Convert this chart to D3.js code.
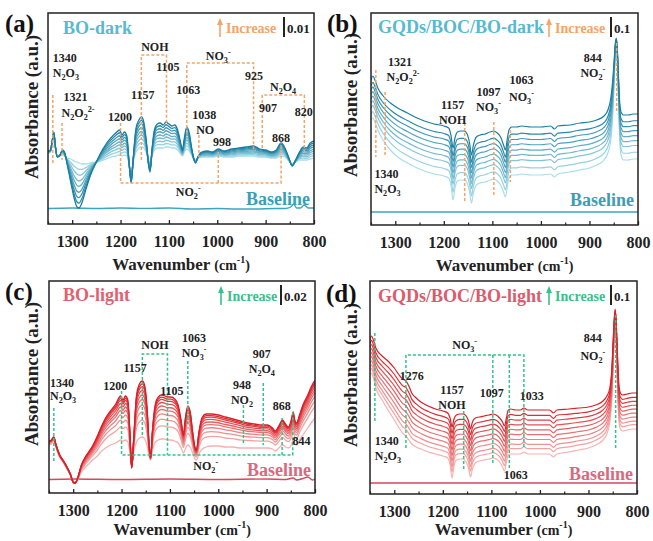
<!DOCTYPE html>
<html><head><meta charset="utf-8">
<script src="https://cdn.jsdelivr.net/npm/d3@7"></script>
<style>body{margin:0;background:#fff}svg{display:block}text{font-family:"Liberation Serif","Times New Roman",serif;font-weight:bold}</style>
</head><body><svg id="chart" width="653" height="541"></svg>
<script>
// ---------------- DATA (absorbance) ----------------
const xTicks = [1300,1200,1100,1000,900,800];
const xMinor = [1350,1250,1150,1050,950,850];

// Panel (a) BO-dark
const waveA = [1350,1345,1341,1338,1335,1331,1326,1320,1316,1310,1303,1296,1290,1286,1280,1272,1262,1250,1240,1230,1220,1210,1202,1197,1192,1187,1182,1178,1174,1168,1162,1157,1152,1147,1142,1139,1135,1130,1124,1118,1112,1106,1100,1094,1088,1082,1077,1072,1068,1063,1058,1053,1048,1045,1040,1032,1020,1010,998,985,970,955,940,925,912,900,888,878,868,860,852,845,838,830,822,815,808,800];
const darkA = [.0365,.037,.042,.046,.0395,.0335,.034,.037,.036,.0295,.021,.013,.0085,.008,.0105,.017,.0245,.031,.036,.040,.043,.0455,.047,.0445,.046,.044,.0295,.0205,.032,.048,.052,.0535,.051,.042,.0295,.026,.037,.047,.050,.0505,.0495,.051,.050,.049,.0495,.047,.042,.037,.043,.0485,.0455,.038,.032,.0305,.0335,.036,.0365,.036,.0375,.0365,.0375,.038,.0385,.039,.0375,.037,.036,.037,.0405,.038,.033,.029,.032,.036,.0385,.038,.0405,.0415];
const lightA = [.0355,.036,.041,.0445,.0385,.034,.0345,.0355,.034,.033,.0325,.0315,.031,.0305,.030,.030,.0305,.031,.0315,.0325,.0335,.034,.0345,.034,.0345,.034,.0295,.0245,.031,.036,.038,.0385,.038,.036,.032,.030,.034,.037,.038,.038,.038,.0385,.0385,.038,.038,.037,.0355,.034,.036,.0375,.0365,.0345,.0325,.032,.033,.0335,.0335,.0335,.034,.0335,.0335,.034,.034,.034,.0335,.0335,.033,.033,.034,.0335,.0315,.030,.031,.032,.032,.032,.0325,.033];
const weightsA = [0,0.14,0.27,0.4,0.52,0.65,0.77,0.89,1];
const baseWaveA = [1350,1300,1250,1200,1150,1100,1050,1000,960,920,880,860,848,842,836,828,820,812,800];
const baseA = [.00775,.008,.00775,.008,.0078,.008,.0075,.00775,.0075,.0075,.00775,.00775,.0085,.010,.008,.008,.0095,.008,.008];

// Panel (b) GQDs/BOC/BO-dark
const waveB = [1350,1346,1342,1336,1325,1310,1295,1275,1255,1240,1220,1200,1190,1185,1181,1177,1172,1165,1158,1152,1147,1143,1139,1133,1125,1115,1105,1097,1090,1083,1077,1073,1069,1065,1060,1050,1040,1020,1000,980,972,965,940,920,900,885,870,862,856,852,849,847,845,843,841,838,835,830,820,810,800];
const darkB = [0.725,0.745,0.725,0.685,0.645,0.61,0.585,0.56,0.535,0.52,0.505,0.495,0.485,0.445,0.385,0.435,0.465,0.47,0.47,0.455,0.41,0.35,0.40,0.44,0.45,0.455,0.465,0.47,0.46,0.44,0.40,0.375,0.435,0.48,0.49,0.49,0.495,0.49,0.49,0.495,0.48,0.495,0.50,0.51,0.515,0.525,0.545,0.575,0.635,0.725,0.825,0.90,0.935,0.90,0.79,0.625,0.565,0.55,0.55,0.555,0.555];
const lightB = [0.525,0.535,0.515,0.475,0.425,0.375,0.34,0.31,0.285,0.27,0.255,0.245,0.235,0.195,0.125,0.185,0.22,0.225,0.225,0.21,0.165,0.11,0.16,0.20,0.21,0.215,0.225,0.23,0.22,0.20,0.165,0.14,0.195,0.24,0.25,0.25,0.255,0.25,0.25,0.255,0.24,0.255,0.265,0.275,0.285,0.30,0.325,0.36,0.425,0.55,0.725,0.85,0.90,0.85,0.70,0.45,0.35,0.325,0.325,0.33,0.33];
const weightsB = [0,0.15,0.3,0.41,0.52,0.63,0.74,0.85,1];
const baseWaveB = [1350,1100,800];
const baseB = [0.065,0.065,0.065];

// Panel (c) BO-light
const waveC = [1350,1345,1340,1336,1328,1320,1314,1306,1300,1296,1290,1283,1276,1268,1260,1250,1243,1233,1223,1212,1202,1197,1192,1187,1183,1179,1175,1169,1163,1157,1152,1147,1143,1140,1136,1130,1124,1117,1110,1105,1098,1090,1083,1077,1072,1068,1063,1058,1053,1048,1045,1040,1033,1025,1015,1000,985,970,955,940,925,910,898,888,882,875,867,861,855,849,845,842,838,832,825,815,808,800];
const darkC = [0.052,0.053,0.056,0.049,0.038,0.032,0.027,0.019,0.011,0.010,0.016,0.028,0.035,0.041,0.047,0.057,0.065,0.075,0.082,0.089,0.097,0.093,0.097,0.093,0.063,0.025,0.053,0.098,0.109,0.112,0.107,0.083,0.048,0.035,0.063,0.089,0.096,0.098,0.097,0.096,0.096,0.094,0.088,0.073,0.058,0.075,0.087,0.081,0.061,0.045,0.043,0.061,0.076,0.079,0.079,0.078,0.076,0.074,0.072,0.070,0.069,0.068,0.068,0.065,0.062,0.067,0.073,0.069,0.066,0.073,0.081,0.073,0.070,0.078,0.088,0.098,0.106,0.113];
const lightC = [0.048,0.049,0.052,0.046,0.036,0.030,0.025,0.018,0.011,0.010,0.014,0.021,0.025,0.029,0.033,0.037,0.041,0.045,0.048,0.050,0.053,0.052,0.053,0.051,0.041,0.028,0.041,0.051,0.055,0.056,0.054,0.047,0.037,0.033,0.043,0.051,0.053,0.054,0.054,0.053,0.053,0.052,0.050,0.045,0.040,0.044,0.048,0.046,0.040,0.034,0.033,0.039,0.044,0.046,0.047,0.047,0.046,0.046,0.045,0.045,0.045,0.045,0.045,0.044,0.042,0.045,0.048,0.046,0.045,0.048,0.053,0.049,0.048,0.053,0.058,0.065,0.070,0.075];
const weightsC = [0,0.3,0.45,0.57,0.67,0.75,0.83,0.9,0.95,1];
const baseWaveC = [1350,1300,1200,1100,1000,900,860,845,838,825,815,805,800];
const baseC = [0.0135,0.014,0.0135,0.014,0.0135,0.014,0.0135,0.015,0.013,0.0145,0.016,0.013,0.014];

// Panel (d) GQDs/BOC/BO-light
const waveD = [1350,1347,1343,1338,1325,1313,1300,1290,1283,1276,1270,1264,1255,1245,1230,1215,1200,1190,1185,1181,1177,1172,1165,1158,1152,1147,1143,1139,1133,1125,1115,1105,1097,1090,1083,1077,1073,1069,1065,1060,1050,1040,1033,1025,1000,980,972,965,940,920,900,885,870,862,856,852,849,847,845,843,841,838,835,830,820,810,800];
const darkD = [0.77,0.79,0.77,0.73,0.69,0.665,0.63,0.595,0.575,0.565,0.54,0.505,0.48,0.46,0.44,0.425,0.415,0.405,0.38,0.335,0.375,0.395,0.40,0.40,0.39,0.365,0.325,0.36,0.38,0.385,0.39,0.395,0.40,0.395,0.38,0.36,0.34,0.38,0.42,0.425,0.42,0.42,0.43,0.42,0.42,0.42,0.405,0.42,0.425,0.43,0.435,0.445,0.465,0.49,0.53,0.62,0.77,0.87,0.925,0.87,0.745,0.57,0.51,0.495,0.50,0.505,0.505];
const lightD = [0.595,0.605,0.58,0.53,0.47,0.42,0.37,0.33,0.305,0.29,0.27,0.25,0.235,0.225,0.21,0.20,0.19,0.18,0.145,0.08,0.14,0.17,0.175,0.175,0.16,0.13,0.085,0.125,0.155,0.165,0.17,0.175,0.18,0.175,0.16,0.135,0.115,0.16,0.195,0.20,0.20,0.20,0.21,0.20,0.20,0.20,0.185,0.20,0.21,0.22,0.23,0.245,0.27,0.30,0.36,0.47,0.645,0.78,0.87,0.795,0.62,0.395,0.33,0.315,0.32,0.325,0.325];
const weightsD = [0,0.12,0.22,0.33,0.44,0.55,0.66,0.77,0.88,1];
const baseWaveD = [1350,1100,800];
const baseD = [0.055,0.055,0.055];

// Peak assignment guides [wavenumber, absorbance] and labels
const guidesA = [
  [[1340,0.0645],[1340,0.0305]],
  [[1321,0.0505],[1321,0.032]],
  [[1200,0.0505],[1200,0.0205],[868,0.0205],[868,0.0405]],
  [[998,0.0205],[998,0.036]],
  [[1157,0.032],[1157,0.0845],[1105,0.0845],[1105,0.0505]],
  [[1063,0.0455],[1063,0.0805],[925,0.0805],[925,0.037]],
  [[1038,0.0445],[1038,0.0335]],
  [[907,0.038],[907,0.0645],[820,0.0645],[820,0.0345]]
];
const notesA = [
  ['1340',1340,0.083,'start'],['N_2O_3',1340,0.0755,'start'],
  ['1321',1318,0.0635,'start'],['N_2O_2^{2-}',1322,0.0555,'start'],
  ['1200',1201,0.0535],['1157',1154,0.0645],['NOH',1129,0.0885],['1105',1102,0.0785],
  ['1063',1060,0.067],['NO_3^-',998,0.084],['925',924,0.074],['1038',1027,0.0545],['NO',1025,0.047],
  ['998',990,0.041],['N_2O_4',864,0.0685],['907',895,0.058],['820',821,0.056],['868',868,0.043],['NO_2^-',1060,0.016]
];
const guidesB = [
  [[1340,0.775],[1340,0.34]],
  [[1321,0.665],[1321,0.34]],
  [[1157,0.51],[1157,0.115]],
  [[1097,0.515],[1097,0.14]],
  [[1063,0.475],[1063,0.215]],
  [[844,0.91],[844,0.565]]
];
const notesB = [
  ['1340',1343,0.255,'start'],['N_2O_3',1343,0.18,'start'],
  ['1321',1315,0.815,'start'],['N_2O_2^{2-}',1318,0.74,'start'],
  ['1157',1182,0.60],['NOH',1182,0.525],
  ['1097',1108,0.665],['NO_3^-',1108,0.59],
  ['1063',1040,0.725],['NO_3^-',1040,0.64],
  ['844',893,0.835],['NO_2^-',893,0.76]
];
const guidesC = [
  [[1340,0.085],[1340,0.032]],
  [[1200,0.102],[1200,0.038],[846,0.038],[846,0.082]],
  [[1157,0.058],[1157,0.139],[1105,0.139],[1105,0.038]],
  [[868,0.038],[868,0.075]],
  [[1063,0.132],[1063,0.068]],
  [[948,0.088],[948,0.050]],
  [[907,0.110],[907,0.048]]
];
const notesC = [
  ['1340',1348,0.110,'start'],['N_2O_3',1348,0.097,'start'],
  ['1200',1213,0.107],['1157',1172,0.125],['NOH',1131,0.148],['1105',1096,0.102],
  ['1063',1050,0.155],['NO_3^-',1050,0.140],
  ['948',951,0.108],['NO_2',951,0.093],
  ['907',910,0.139],['N_2O_4',910,0.124],
  ['868',869,0.087],['844',828,0.052],['NO_2^-',1026,0.027]
];
const guidesD = [
  [[1340,0.805],[1340,0.355]],
  [[1276,0.23],[1276,0.695],[1033,0.695],[1033,0.23]],
  [[1097,0.695],[1097,0.155]],
  [[1063,0.695],[1063,0.13]],
  [[1157,0.415],[1157,0.115]],
  [[844,0.895],[844,0.23]]
];
const notesD = [
  ['1276',1264,0.59],['1157',1181,0.52],['NOH',1181,0.445],['1097',1099,0.505],
  ['1033',1017,0.49],['1063',1050,0.095],['NO_3^-',1155,0.745],
  ['1340',1340,0.265,'start'],['N_2O_3',1340,0.19,'start'],
  ['844',891,0.78],['NO_2^-',891,0.69]
];

// ---------------- LAYOUT ----------------
const blueLight = '#a8dde9', blueDark = '#1a7ea2';
const redLight = '#f7b2b0', redDark = '#d91f27';
const orange = '#f4a466', green = '#35c28c';

const panels = [
  {tag:'(a)', tagX:5, tagY:32, frame:[48,13,314,224], ymax:0.1055, wave:waveA, dark:darkA, light:lightA, weights:weightsA,
   baseWave:baseWaveA, base:baseA, c0:blueLight, c1:blueDark, baseCol:'#3aa6bf', baseTxt:'#3a9fb6', baseTxtY:205,
   title:'BO-dark', titleCol:'#58bacf', titleX:63, titleY:34, guideCol:orange, arrowX:220, incX:226, barX:284, scale:0.01, scaleTxt:'0.01',
   guides:guidesA, notes:notesA, ylabX:32, ylabY:107, lw:1.3, xlabDy:46},
  {tag:'(b)', tagX:327, tagY:32, frame:[371,13,638,225], ymax:1.06, wave:waveB, dark:darkB, light:lightB, weights:weightsB,
   baseWave:baseWaveB, base:baseB, c0:blueLight, c1:blueDark, baseCol:'#3aa6bf', baseTxt:'#3a9fb6', baseTxtY:206,
   title:'GQDs/BOC/BO-dark', titleCol:'#58bacf', titleX:378, titleY:33, guideCol:orange, arrowX:549, incX:555, barX:611, scale:0.1, scaleTxt:'0.1',
   guides:guidesB, notes:notesB, ylabX:351, ylabY:105, lw:1.2, xlabDy:46},
  {tag:'(c)', tagX:5, tagY:300, frame:[49,281,315,493], ymax:0.212, wave:waveC, dark:darkC, light:lightC, weights:weightsC,
   baseWave:baseWaveC, base:baseC, c0:redLight, c1:redDark, baseCol:'#d9475a', baseTxt:'#d86a80', baseTxtY:476,
   title:'BO-light', titleCol:'#e0616f', titleX:63, titleY:301, guideCol:green, arrowX:221, incX:227, barX:281, scale:0.02, scaleTxt:'0.02',
   guides:guidesC, notes:notesC, ylabX:32, ylabY:374, lw:1.3, xlabDy:42},
  {tag:'(d)', tagX:326, tagY:302, frame:[370,281,637,494], ymax:1.065, wave:waveD, dark:darkD, light:lightD, weights:weightsD,
   baseWave:baseWaveD, base:baseD, c0:redLight, c1:redDark, baseCol:'#d9475a', baseTxt:'#d86a80', baseTxtY:480,
   title:'GQDs/BOC/BO-light', titleCol:'#dc5a6c', titleX:378, titleY:302, guideCol:green, arrowX:549, incX:555, barX:611, scale:0.1, scaleTxt:'0.1',
   guides:guidesD, notes:notesD, ylabX:351, ylabY:375, lw:1.2, xlabDy:41}
];

const svg = d3.select('#chart');

function rich(el, s, fs) {
  const parts = s.match(/_\{[^}]*\}|_[^_^]|\^\{[^}]*\}|\^[^_^]|[^_^]+/g);
  let shift = 0;
  parts.forEach(t => {
    let target = 0, size = fs, txt = t;
    if (t[0] === '_' || t[0] === '^') {
      txt = t[1] === '{' ? t.slice(2, -1) : t.slice(1);
      size = fs * 0.68;
      target = t[0] === '_' ? fs * 0.28 : -fs * 0.4;
    }
    el.append('tspan').attr('dy', target - shift).attr('font-size', size).text(txt);
    shift = target;
  });
}

panels.forEach((p, idx) => {
  const [x0, y0, x1, y1] = p.frame;
  const x = d3.scaleLinear().domain([1350, 800]).range([x0, x1]);
  const y = d3.scaleLinear().domain([0, p.ymax]).range([y1, y0]);
  const g = svg.append('g');
  const clipId = 'clip' + idx;
  svg.append('clipPath').attr('id', clipId).append('rect')
    .attr('x', x0).attr('y', y0).attr('width', x1 - x0).attr('height', y1 - y0);
  const plot = g.append('g').attr('clip-path', `url(#${clipId})`);
  const line = d3.line().x(d => x(d[0])).y(d => y(d[1])).curve(d3.curveMonotoneX);

  // baseline spectrum
  plot.append('path').datum(p.baseWave.map((w, i) => [w, p.base[i]]))
    .attr('d', line).attr('fill', 'none').attr('stroke', p.baseCol).attr('stroke-width', 1.4);

  // time series spectra (light -> dark)
  const col = d3.interpolateRgb(p.c0, p.c1);
  p.weights.forEach((wt, k) => {
    const pts = p.wave.map((w, i) => [w, p.light[i] + wt * (p.dark[i] - p.light[i])]);
    plot.append('path').datum(pts).attr('d', line).attr('fill', 'none')
      .attr('stroke', col(k / (p.weights.length - 1))).attr('stroke-width', p.lw)
      .attr('stroke-linejoin', 'round');
  });

  // guides
  const gl = d3.line().x(d => x(d[0])).y(d => y(d[1]));
  p.guides.forEach(gd => {
    g.append('path').attr('d', gl(gd)).attr('fill', 'none').attr('stroke', p.guideCol)
      .attr('stroke-width', 1.5).attr('stroke-dasharray', '3,2');
  });
  // labels
  p.notes.forEach(n => {
    const t = g.append('text').attr('x', x(n[1])).attr('y', y(n[2]) + 4)
      .attr('text-anchor', n[3] || 'middle').attr('font-size', 12).attr('fill', '#222');
    rich(t, n[0], 12);
  });

  // Baseline label
  g.append('text').attr('x', x1 - 4).attr('y', p.baseTxtY).attr('text-anchor', 'end')
    .attr('font-size', 18).attr('fill', p.baseTxt).text('Baseline');

  // frame
  g.append('rect').attr('x', x0).attr('y', y0).attr('width', x1 - x0).attr('height', y1 - y0)
    .attr('fill', 'none').attr('stroke', '#222').attr('stroke-width', 1.5);

  // axes
  const axMaj = d3.axisBottom(x).tickValues(xTicks).tickFormat(d3.format('d'))
    .tickSizeInner(-4).tickSizeOuter(0).tickPadding(12);
  const axG = g.append('g').attr('transform', `translate(0,${y1})`).call(axMaj);
  axG.select('.domain').remove();
  axG.selectAll('line').attr('stroke', '#222').attr('stroke-width', 1.3);
  axG.selectAll('text').attr('font-size', 16).attr('fill', '#222')
    .style('font-family', '"Liberation Serif","Times New Roman",serif').style('font-weight', 'bold');
  const axMin = d3.axisBottom(x).tickValues(xMinor).tickSizeInner(-2.5).tickSizeOuter(0).tickFormat('');
  const axM = g.append('g').attr('transform', `translate(0,${y1})`).call(axMin);
  axM.select('.domain').remove();
  axM.selectAll('line').attr('stroke', '#222').attr('stroke-width', 1.2);

  // x label
  const xl = g.append('text').attr('x', (x0 + x1) / 2).attr('y', y1 + p.xlabDy).attr('text-anchor', 'middle').attr('fill', '#222');
  xl.append('tspan').attr('font-size', 17).text('Wavenumber ');
  xl.append('tspan').attr('font-size', 14).text('(cm');
  xl.append('tspan').attr('font-size', 10).attr('dy', -7).text('-1');
  xl.append('tspan').attr('font-size', 14).attr('dy', 7).text(')');

  // y label
  g.append('text').attr('transform', `translate(${p.ylabX + 6},${p.ylabY}) rotate(-90)`)
    .attr('text-anchor', 'middle').attr('font-size', 19).attr('fill', '#222').text('Absorbance (a.u.)');

  // panel tag
  g.append('text').attr('x', p.tagX).attr('y', p.tagY).attr('font-size', 25).attr('fill', '#111').text(p.tag);

  // title
  g.append('text').attr('x', p.titleX).attr('y', p.titleY).attr('font-size', 18).attr('fill', p.titleCol).text(p.title);

  // increase arrow
  const ay0 = y0 + 24, ay1 = y0 + 5;
  g.append('line').attr('x1', p.arrowX).attr('x2', p.arrowX).attr('y1', ay0).attr('y2', ay1 + 5)
    .attr('stroke', p.guideCol).attr('stroke-width', 1.6);
  g.append('path').attr('d', `M${p.arrowX - 3},${ay1 + 7}L${p.arrowX},${ay1}L${p.arrowX + 3},${ay1 + 7}Z`).attr('fill', p.guideCol);
  g.append('text').attr('x', p.incX).attr('y', y0 + 20).attr('font-size', 14).attr('fill', p.guideCol).text('Increase');

  // scale bar
  const barLen = y(0) - y(p.scale);
  g.append('line').attr('x1', p.barX).attr('x2', p.barX).attr('y1', y0 + 4).attr('y2', y0 + 4 + barLen)
    .attr('stroke', '#222').attr('stroke-width', 2);
  g.append('text').attr('x', p.barX + 3).attr('y', y0 + 20).attr('font-size', 13).attr('fill', '#222').text(p.scaleTxt);
});
</script></body></html>
